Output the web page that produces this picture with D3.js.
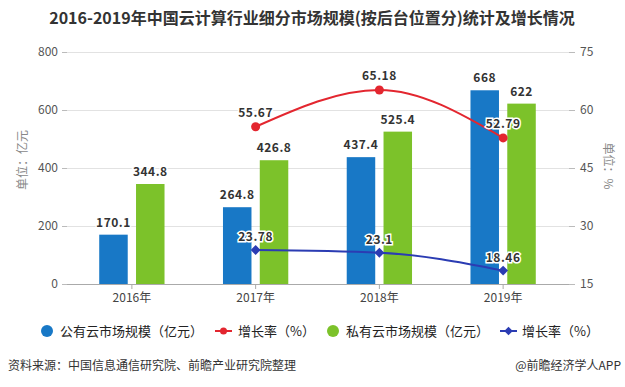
<!DOCTYPE html>
<html><head><meta charset="utf-8">
<script src="https://cdn.jsdelivr.net/npm/d3@7"></script>
<style>
body{margin:0;background:#fff;}
svg{display:block;font-family:"Microsoft YaHei","Noto Sans CJK SC",sans-serif;}
</style></head>
<body>
<svg id="c" width="625" height="387"></svg>
<script>
const categories = ["2016年","2017年","2018年","2019年"];
const publicCloud = [170.1, 264.8, 437.4, 668];
const privateCloud = [344.8, 426.8, 525.4, 622];
const publicGrowth = [null, 23.78, 23.1, 18.46];
const privateGrowth = [null, 55.67, 65.18, 52.79];
const leftTicks = [0, 200, 400, 600, 800];
const rightTicks = [15, 30, 45, 60, 75];

(function(){
const svg = d3.select("#c");
const pTop = 52, pBottom = 284, pLeft = 67, pRight = 569;
const cBlue = "#1878c6", cGreen = "#7cc22a", cRed = "#e3262f", cNavy = "#2b3cb3";
const FF = "'Microsoft YaHei','Noto Sans CJK SC',sans-serif";

const x = d3.scaleBand().domain(categories).range([70, 565]);
const yL = d3.scaleLinear().domain([0, 800]).range([pBottom, pTop]);
const yR = d3.scaleLinear().domain([15, 75]).range([pBottom, pTop]);

svg.append("text").attr("x", 312).attr("y", 24).attr("text-anchor", "middle")
  .attr("font-size", 16).attr("font-weight", "bold").attr("fill", "#333")
  .text("2016-2019年中国云计算行业细分市场规模(按后台位置分)统计及增长情况");

svg.append("g").selectAll("line").data(leftTicks.slice(1)).join("line")
  .attr("x1", pLeft).attr("x2", pRight).attr("y1", d => yL(d) + 0.5).attr("y2", d => yL(d) + 0.5)
  .attr("stroke", "#e2e2e2").attr("stroke-width", 1);

const gL = svg.append("g").attr("transform", `translate(${pLeft},0)`)
  .call(d3.axisLeft(yL).tickValues(leftTicks).tickSize(5).tickPadding(4));
gL.select(".domain").remove();
gL.selectAll("line").attr("stroke", "#bbb");
gL.selectAll("text").attr("font-size", 12).attr("fill", "#555").attr("font-family", FF);

const gR = svg.append("g").attr("transform", `translate(${pRight},0)`)
  .call(d3.axisRight(yR).tickValues(rightTicks).tickSize(6).tickPadding(5));
gR.select(".domain").remove();
gR.selectAll("line").attr("stroke", "#bbb");
gR.selectAll("text").attr("font-size", 12).attr("fill", "#555").attr("font-family", FF);

const gX = svg.append("g").attr("transform", `translate(0,${pBottom})`)
  .call(d3.axisBottom(x).tickSize(5).tickPadding(4).tickSizeOuter(0));
gX.select(".domain").attr("d", `M${pLeft},0.5H${pRight}`).attr("stroke", "#aaa");
gX.selectAll(".tick line").attr("stroke", "#aaa");
gX.selectAll("text").attr("font-size", 12).attr("fill", "#444").attr("font-family", FF);

svg.append("text").attr("transform", "translate(27,160) rotate(-90)").attr("text-anchor", "middle")
  .attr("font-size", 12).attr("fill", "#888").text("单位：亿元");
svg.append("text").attr("transform", "translate(604,166) rotate(90)").attr("text-anchor", "middle")
  .attr("font-size", 12).attr("fill", "#888").text("单位：%");

const bw = 28.5, off = 18.4;
const barG = svg.append("g");
barG.selectAll(".pb").data(publicCloud).join("rect").attr("class", "pb")
  .attr("x", (d, i) => x(categories[i]) + x.bandwidth() / 2 - off - bw / 2)
  .attr("y", d => yL(d)).attr("width", bw).attr("height", d => pBottom - yL(d)).attr("fill", cBlue);
barG.selectAll(".gb").data(privateCloud).join("rect").attr("class", "gb")
  .attr("x", (d, i) => x(categories[i]) + x.bandwidth() / 2 + off - bw / 2)
  .attr("y", d => yL(d)).attr("width", bw).attr("height", d => pBottom - yL(d)).attr("fill", cGreen);

const lab = svg.append("g");
function label(px, py, t) {
  lab.append("text").attr("x", px).attr("y", py).attr("text-anchor", "middle")
    .attr("font-size", 12).attr("font-weight", "bold").attr("fill", "#333")
    .attr("stroke", "#fff").attr("stroke-width", 3).attr("paint-order", "stroke")
    .attr("letter-spacing", 0.5)
    .text(t);
}
publicCloud.forEach((d, i) => label(x(categories[i]) + x.bandwidth() / 2 - off, yL(d) - 8, d));
privateCloud.forEach((d, i) => label(x(categories[i]) + x.bandwidth() / 2 + off, yL(d) - 8, d));

const cx = i => x(categories[i]) + x.bandwidth() / 2;
const line = d3.line().x(d => cx(d.i)).y(d => yR(d.v)).curve(d3.curveMonotoneX);
const redData = privateGrowth.map((v, i) => ({v, i})).filter(d => d.v != null);
const navyData = publicGrowth.map((v, i) => ({v, i})).filter(d => d.v != null);

svg.append("path").datum(redData).attr("d", line).attr("fill", "none").attr("stroke", cRed).attr("stroke-width", 2);
svg.append("path").datum(navyData).attr("d", line).attr("fill", "none").attr("stroke", cNavy).attr("stroke-width", 2);

svg.append("g").selectAll("circle").data(redData).join("circle")
  .attr("cx", d => cx(d.i)).attr("cy", d => yR(d.v)).attr("r", 4.5).attr("fill", cRed);
svg.append("g").selectAll("path").data(navyData).join("path")
  .attr("transform", d => `translate(${cx(d.i)},${yR(d.v)}) rotate(45)`)
  .attr("d", "M-3.5,-3.5H3.5V3.5H-3.5Z").attr("fill", cNavy);

redData.forEach(d => label(cx(d.i), yR(d.v) - 10, d.v));
navyData.forEach(d => label(cx(d.i), yR(d.v) - 9, d.v));
svg.node().appendChild(lab.node());

const lg = svg.append("g").attr("font-size", 13).attr("fill", "#222");
const ly = 331;
lg.append("circle").attr("cx", 47).attr("cy", ly).attr("r", 6).attr("fill", cBlue);
lg.append("text").attr("x", 60).attr("y", ly + 4.5).text("公有云市场规模（亿元）");
lg.append("line").attr("x1", 215).attr("x2", 232).attr("y1", ly).attr("y2", ly).attr("stroke", cRed).attr("stroke-width", 2);
lg.append("circle").attr("cx", 223.5).attr("cy", ly).attr("r", 3.5).attr("fill", cRed);
lg.append("text").attr("x", 238).attr("y", ly + 4.5).text("增长率（%）");
lg.append("circle").attr("cx", 333).attr("cy", ly).attr("r", 6).attr("fill", cGreen);
lg.append("text").attr("x", 346).attr("y", ly + 4.5).text("私有云市场规模（亿元）");
lg.append("line").attr("x1", 500).attr("x2", 517).attr("y1", ly).attr("y2", ly).attr("stroke", cNavy).attr("stroke-width", 2);
lg.append("path").attr("transform", `translate(508.5,${ly}) rotate(45)`).attr("d", "M-3,-3H3V3H-3Z").attr("fill", cNavy);
lg.append("text").attr("x", 522).attr("y", ly + 4.5).text("增长率（%）");

svg.append("text").attr("x", 8).attr("y", 370).attr("font-size", 12).attr("fill", "#333")
  .text("资料来源：中国信息通信研究院、前瞻产业研究院整理");
svg.append("text").attr("x", 621).attr("y", 370).attr("text-anchor", "end").attr("font-size", 12).attr("fill", "#333")
  .text("@前瞻经济学人APP");
})();
</script>
</body></html>
